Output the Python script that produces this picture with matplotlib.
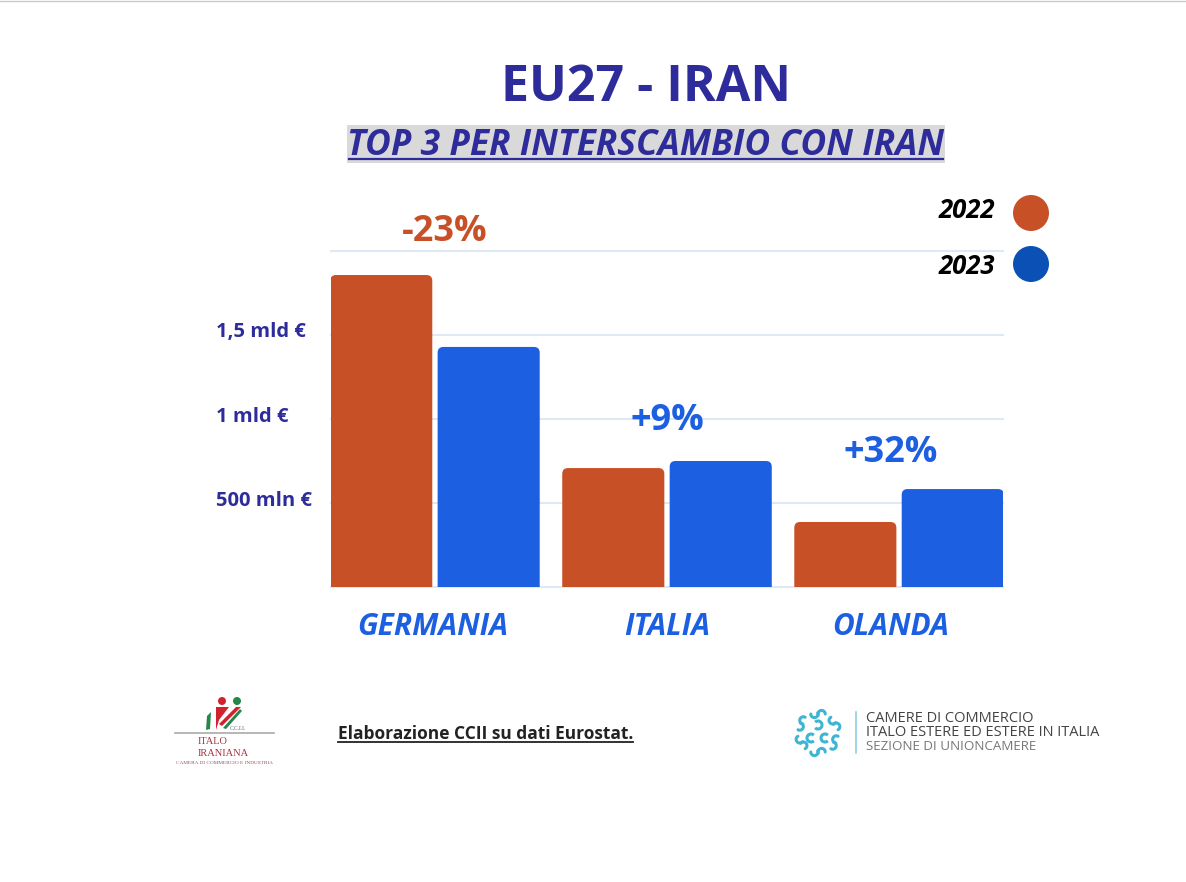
import numpy as np
import matplotlib
matplotlib.use("Agg")
import matplotlib.pyplot as plt
from matplotlib.patches import FancyBboxPatch, Circle, Polygon, Arc, Rectangle
from matplotlib.transforms import ScaledTranslation

plt.rcParams["font.family"] = ["Open Sans", "DejaVu Sans"]

# values in mln EUR
countries = ["GERMANIA", "ITALIA", "OLANDA"]
values_2022 = [1857, 708, 387]
values_2023 = [1429, 750, 583]
changes = ["-23%", "+9%", "+32%"]
change_y = [2113, 990, 795]
change_x = [0.04, 0.0, -0.035]
tick_values = [500, 1000, 1500, 2000]
tick_labels = ["500 mln €", "1 mld €", "1,5 mld €", ""]

NAVY = "#2e2c9b"
ORANGE = "#c85027"
BLUE = "#1c5fe0"
BLUE_DARK = "#0b50b5"
GRID = "#dfe9f5"

W, H = 1186, 882
fig = plt.figure(figsize=(W / 100, H / 100), dpi=100)

# overlay in pixel coordinates for title, legend and logos
bg = fig.add_axes([0, 0, 1, 1])
bg.set_xlim(0, W)
bg.set_ylim(H, 0)
bg.axis("off")

# ========== Bars ==========
left, right, top, bottom = 331, 1003, 251, 587
ax = fig.add_axes([left / W, 1 - bottom / H, (right - left) / W, (bottom - top) / H])
ax.set_xlim(-0.448, 2.448)
ax.set_ylim(0, 2000)
ax.patch.set_alpha(0)
for s in ["top", "right", "left"]:
    ax.spines[s].set_visible(False)
ax.spines["bottom"].set_color(GRID)
ax.spines["bottom"].set_linewidth(1.5)

bar_w = 0.44
offset = 0.2315
px_x = (right - left) / 2.896
px_y = (bottom - top) / 2000


def rounded_bar(x, val, color):
    # start below the axis so only the top corners show as rounded
    p = FancyBboxPatch(
        (x - bar_w / 2, -100),
        bar_w,
        val + 100,
        boxstyle="round,pad=0,rounding_size=0.025",
        mutation_aspect=px_x / px_y,
        fc=color,
        ec="none",
        zorder=3,
    )
    ax.add_patch(p)


for i in range(len(countries)):
    rounded_bar(i - offset, values_2022[i], ORANGE)
    rounded_bar(i + offset, values_2023[i], BLUE)

ax.set_yticks(tick_values)
ax.set_yticklabels(tick_labels, fontsize=14.5, fontweight="bold", color=NAVY, ha="left")
ax.tick_params(axis="y", length=0, pad=(331 - 216) * 0.72)
shift = ScaledTranslation(0, 5 / 100, fig.dpi_scale_trans)
for lab in ax.get_yticklabels():
    lab.set_transform(lab.get_transform() + shift)
ax.grid(axis="y", color=GRID, linewidth=1.5, zorder=0, clip_on=False)
ax.set_axisbelow(True)

ax.set_xticks(range(len(countries)))
ax.set_xticklabels(countries, fontsize=21.5, fontweight="bold", style="italic", color=BLUE)
ax.tick_params(axis="x", length=0, pad=18)
for lab, dx in zip(ax.get_xticklabels(), [-2, 0, -8]):
    lab.set_transform(lab.get_transform() + ScaledTranslation(dx / 100, 0, fig.dpi_scale_trans))

for i, txt in enumerate(changes):
    ax.text(
        i + change_x[i],
        change_y[i],
        txt,
        ha="center",
        va="center",
        fontsize=26,
        fontweight="bold",
        color=ORANGE if txt.startswith("-") else BLUE,
        clip_on=False,
        zorder=5,
    )

# ========== Titles ==========
bg.plot([0, W], [0.5, 0.5], color="#c9c9c9", lw=1)
bg.text(646, 88, "EU27 - IRAN", ha="center", va="center", fontsize=36, fontweight="bold", color=NAVY)
bg.add_patch(Rectangle((347, 125), 598, 38, fc="#d9d9d9", ec="none"))
bg.text(646, 146, "TOP 3 PER INTERSCAMBIO CON IRAN", ha="center", va="center",
        fontsize=25.5, fontweight="bold", style="italic", color=NAVY)
bg.plot([349, 943], [158.5, 158.5], color=NAVY, lw=1.6)

# ========== Legend ==========
for y, ty, year, col in [(213, 211, "2022", ORANGE), (264, 266, "2023", BLUE_DARK)]:
    bg.add_patch(Circle((1031, y), 18, fc=col, ec="none"))
    bg.text(995, ty, year, ha="right", va="center", fontsize=18.5, fontweight="bold",
            style="italic", color="black")

# ========== Footer ==========
bg.text(338, 734, "Elaborazione CCII su dati Eurostat.", ha="left", va="center",
        fontsize=12.5, fontweight="bold", color="#222222")
bg.plot([338, 633], [742, 742], color="#222222", lw=1.3)

# left logo
red = "#d2222d"
green = "#23884a"
bg.add_patch(Circle((222, 701), 4, fc=red, ec="none"))
bg.add_patch(Circle((237, 701), 4, fc=green, ec="none"))
bg.add_patch(Polygon([(216, 707), (229, 707), (219, 720), (216, 730)], fc=red, ec="none"))
bg.add_patch(Polygon([(222, 726), (241, 707), (236, 707), (219, 724)], fc=red, ec="none"))
bg.add_patch(Polygon([(226, 729), (242, 711), (240, 709), (223, 728)], fc=green, ec="none"))
bg.add_patch(Polygon([(207, 716), (211, 712), (210, 729), (206, 730)], fc=green, ec="none"))
bg.text(230, 728, "C.C.I.I.", ha="left", va="center", fontsize=4, color="#555555",
        family="Liberation Serif")
bg.plot([175, 274], [733, 733], color="#aaaaaa", lw=1.2)
bg.text(198, 741, "ITALO", ha="left", va="center", fontsize=7.5, color="#a8323e", family="Liberation Serif")
bg.text(198, 753, "IRANIANA", ha="left", va="center", fontsize=7.5, color="#a8323e", family="Liberation Serif")
bg.text(224.5, 763, "CAMERA DI COMMERCIO E INDUSTRIA", ha="center", va="center", fontsize=3.8,
        color="#8a5560", family="Liberation Serif")

# right logo, ring of S shapes around three C letters
cyan = "#3fb4d3"
cx, cy = 818, 733
r = 3.6
for ang in np.arange(0, 360, 60) + 30:
    a = np.radians(ang)
    px, py = cx + 19 * np.cos(a), cy + 19 * np.sin(a)
    tx, ty = -np.sin(a), np.cos(a)
    t_deg = ang + 90
    for sign, start in [(-1, t_deg), (1, t_deg + 180)]:
        th = np.radians(np.linspace(start - 20, start + 180, 30))
        bg.plot(px + sign * r * tx + r * np.cos(th), py + sign * r * ty + r * np.sin(th),
                color=cyan, lw=2.2, solid_capstyle="round")
for x, y, a in [(818, 725, 225), (811, 738, 45), (825, 738, 45)]:
    bg.add_patch(Arc((x, y), 8, 8, theta1=a, theta2=a + 270, color=cyan, lw=2.2))
bg.plot([855.5, 855.5], [712, 753], color="#8fd0e6", lw=1.2)
for y, s, col, fs in [
    (718, "CAMERE DI COMMERCIO", "#444444", 10.5),
    (732, "ITALO ESTERE ED ESTERE IN ITALIA", "#444444", 10.5),
    (747, "SEZIONE DI UNIONCAMERE", "#777777", 9.6),
]:
    bg.text(866, y, s, ha="left", va="center", fontsize=fs, color=col)

fig.savefig("out.png", dpi=100)
